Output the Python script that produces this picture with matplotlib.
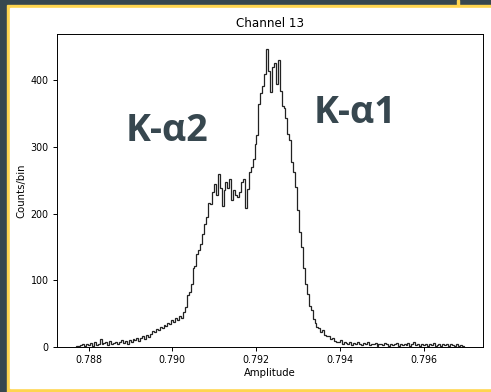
import numpy as np
import matplotlib
matplotlib.use('Agg')
import matplotlib.pyplot as plt
from matplotlib.patches import Rectangle

# Histogram of channel 13 amplitudes, 200 bins (counts)
AMP_MIN = 0.78771
AMP_MAX = 0.79695
counts = [
    2, 1, 3, 5, 2, 4, 3, 6, 2, 8,
    3, 5, 12, 4, 6, 7, 3, 9, 5, 6,
    8, 4, 7, 10, 6, 9, 5, 11, 8, 12,
    10, 14, 9, 13, 16, 12, 18, 15, 20, 24,
    22, 27, 25, 30, 28, 33, 31, 36, 34, 40,
    38, 43, 41, 46, 44, 52, 60, 78, 82, 95,
    118, 122, 140, 145, 155, 170, 185, 195, 216, 214,
    232, 245, 228, 260, 238, 212, 235, 248, 238, 252,
    220, 236, 228, 225, 232, 248, 252, 209, 237, 262,
    270, 282, 305, 318, 365, 381, 392, 410, 447, 414,
    383, 420, 426, 395, 430, 384, 362, 358, 344, 320,
    310, 278, 262, 240, 205, 172, 150, 118, 95, 80,
    62, 55, 42, 36, 30, 28, 22, 25, 18, 16,
    17, 12, 14, 9, 8, 7, 10, 5, 8, 6,
    4, 7, 3, 6, 5, 8, 4, 3, 6, 5,
    7, 3, 5, 4, 6, 2, 5, 4, 3, 6,
    4, 2, 5, 3, 4, 6, 2, 4, 3, 5,
    3, 6, 2, 4, 7, 3, 5, 2, 4, 3,
    5, 2, 4, 3, 6, 2, 3, 5, 2, 4,
    3, 5, 2, 4, 3, 2, 4, 1, 3, 2,
]
peak_labels = ['K-α2', 'K-α1']
peak_label_pos = [(0.78988, 324), (0.79436, 351)]

edges = np.linspace(AMP_MIN, AMP_MAX, len(counts) + 1)
centers = 0.5 * (edges[:-1] + edges[1:])

BG = '#37474f'
GOLD = '#ffd54f'
FS = 8.6

fig = plt.figure(figsize=(4.91, 3.92), dpi=100, facecolor=BG)

# slide-style frame: gold border and white panel (drawn behind the axes)
fig.patches.append(Rectangle((457 / 491, 1 - 5 / 392), 2 / 491, 5 / 392,
                             transform=fig.transFigure, color=GOLD, zorder=-2))
fig.patches.append(Rectangle((7 / 491, 0), 1 - 7 / 491, 1 - 5 / 392,
                             transform=fig.transFigure, color=GOLD, zorder=-2))
fig.patches.append(Rectangle((10 / 491, 4 / 392), 1 - 10 / 491, 1 - 12 / 392,
                             transform=fig.transFigure, color='white', zorder=-1))

ax = fig.add_axes([57 / 491, 1 - 347 / 392, 426 / 491, 313 / 392])
ax.set_zorder(1)
ax.hist(centers, bins=edges, weights=counts, histtype='step', color='#222222', lw=0.9)

ax.set_title('Channel 13', fontsize=FS, pad=5)
ax.set_xlabel('Amplitude', fontsize=FS * 0.85, labelpad=2)
ax.set_ylabel('Counts/bin', fontsize=FS * 0.85, labelpad=3)
ax.set_xticks([0.788, 0.790, 0.792, 0.794, 0.796])
ax.set_yticks([0, 100, 200, 300, 400])
ax.tick_params(labelsize=FS * 0.8, length=3, width=0.7, pad=3)
for s in ax.spines.values():
    s.set_linewidth(0.7)

for lab, (xv, yv) in zip(peak_labels, peak_label_pos):
    ax.text(xv, yv, lab, fontsize=27, fontweight='bold', color=BG,
            family=['Open Sans', 'DejaVu Sans'], ha='center', va='center')

fig.savefig('out.png', dpi=100, facecolor=BG)
